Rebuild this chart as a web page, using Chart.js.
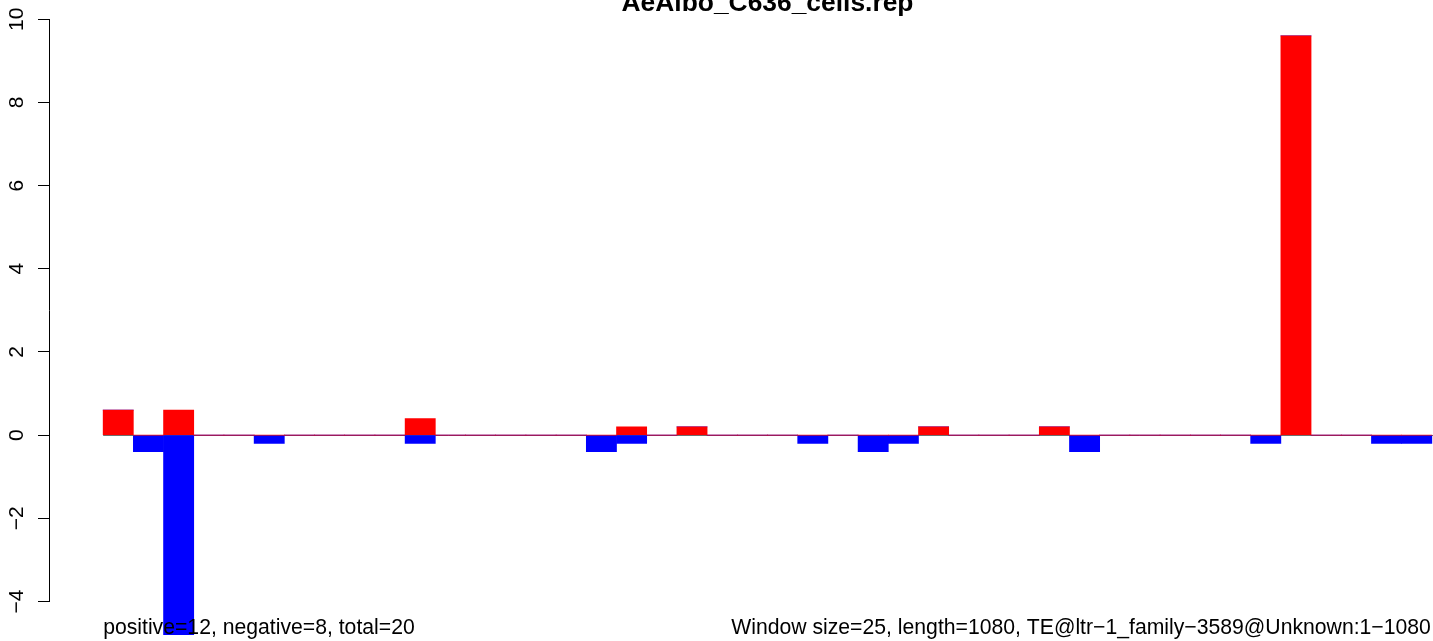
<!DOCTYPE html>
<html>
<head>
<meta charset="utf-8">
<title>AeAlbo_C636_cells.rep</title>
<script src="https://cdn.jsdelivr.net/npm/chart.js@4.4.1/dist/chart.umd.min.js"></script>
<style>
  body { margin: 0; background: #fff; }
  #wrap { width: 1433px; height: 641px; overflow: hidden; position: relative; }
  #repChart { position: absolute; left: 0; top: 0; }
</style>
</head>
<body>
<div id="wrap">
  <canvas id="repChart" width="1540" height="700"></canvas>
</div>
<script>
// 44 windows of 25 nt over a 1080 nt TE
const windows = Array.from({length: 44}, (_, i) => i);
const positiveVals = [0.6, 0, 0.6, 0, 0, 0, 0, 0, 0, 0, 0.4, 0, 0, 0, 0, 0, 0, 0.2, 0, 0.2, 0, 0,
                      0, 0, 0, 0, 0, 0.2, 0, 0, 0, 0.2, 0, 0, 0, 0, 0, 0, 0, 9.6, 0, 0, 0, 0];
const negativeVals = [0, -0.4, -4.8, 0, 0, -0.2, 0, 0, 0, 0, -0.2, 0, 0, 0, 0, 0, -0.4, -0.2, 0, 0, 0, 0,
                      0, -0.2, 0, -0.4, -0.2, 0, 0, 0, 0, 0, -0.4, 0, 0, 0, 0, 0, -0.2, 0, 0, 0, -0.2, -0.2];
const yTicks = [-4, -2, 0, 2, 4, 6, 8, 10];

const mainTitle = "AeAlbo_C636_cells.rep";
const leftNote = "positive=12, negative=8, total=20";
const rightNote = "Window size=25, length=1080, TE@ltr\u22121_family\u22123589@Unknown:1\u22121080";

const FONT = "'Liberation Sans', Arial, Helvetica, sans-serif";

// R style extras: zero line, axis line, title, footnotes
const rExtras = {
  id: 'rExtras',
  beforeDatasetsDraw(chart) {
    const ctx = chart.ctx;
    const x = chart.scales.x, y = chart.scales.y;
    const y0 = Math.round(y.getPixelForValue(0)) + 0.5;
    ctx.save();
    ctx.strokeStyle = '#6e6e6e';
    ctx.lineWidth = 1;
    ctx.beginPath();
    ctx.moveTo(x.getPixelForValue(0), y0);
    ctx.lineTo(chart.chartArea.right, y0);
    ctx.stroke();
    ctx.restore();
  },
  afterDraw(chart) {
    const ctx = chart.ctx;
    const x = chart.scales.x, y = chart.scales.y;
    ctx.save();
    // y axis line from first to last tick
    ctx.strokeStyle = '#000';
    ctx.lineWidth = 1;
    ctx.beginPath();
    ctx.moveTo(y.right - 0.5, y.getPixelForValue(yTicks[0]));
    ctx.lineTo(y.right - 0.5, y.getPixelForValue(yTicks[yTicks.length - 1]));
    ctx.stroke();

    // title, centred on plot region
    ctx.fillStyle = '#000';
    ctx.font = 'bold 26.4px ' + FONT;
    ctx.textAlign = 'center';
    ctx.textBaseline = 'alphabetic';
    ctx.fillText(mainTitle, (chart.chartArea.left + chart.chartArea.right) / 2, 11);

    // footnotes
    ctx.font = '21.2px ' + FONT;
    ctx.textAlign = 'left';
    ctx.fillText(leftNote, x.getPixelForValue(0), 634);
    ctx.textAlign = 'right';
    ctx.fillText(rightNote, x.getPixelForValue(windows.length) - 1, 634);
    ctx.restore();
  }
};

const ctx = document.getElementById('repChart').getContext('2d');
const chart = new Chart(ctx, {
  type: 'bar',
  data: {
    datasets: [
      {
        label: 'positive',
        data: windows.map(i => ({x: i + 0.5, y: positiveVals[i]})),
        backgroundColor: '#ff0000',
        borderWidth: 0
      },
      {
        label: 'negative',
        data: windows.map(i => ({x: i + 0.5, y: negativeVals[i]})),
        backgroundColor: '#0000ff',
        borderWidth: 0
      }
    ]
  },
  options: {
    responsive: false,
    animation: false,
    events: [],
    categoryPercentage: 1,
    barPercentage: 1,
    layout: { padding: { left: 0, top: 11.9, right: 55, bottom: 41.3 } },
    plugins: {
      legend: { display: false },
      title: { display: false },
      tooltip: { enabled: false }
    },
    scales: {
      x: {
        type: 'linear',
        stacked: true,
        offset: false,
        min: -1.76,
        max: 45.76,
        display: false
      },
      y: {
        stacked: true,
        min: -5.376,
        max: 10.176,
        afterBuildTicks: scale => { scale.ticks = yTicks.map(v => ({value: v})); },
        afterFit: scale => {
          scale.width = 50;
          scale.paddingTop = 0;
          scale.paddingBottom = 0;
        },
        border: { display: false },
        grid: {
          drawOnChartArea: false,
          drawTicks: true,
          tickLength: 12,
          tickColor: '#000',
          tickWidth: 1
        },
        ticks: {
          minRotation: 90,
          maxRotation: 90,
          crossAlign: 'center',
          padding: 9,
          color: '#000',
          font: { family: FONT, size: 21 },
          callback: v => String(v).replace('-', '\u2212')
        }
      }
    }
  },
  plugins: [rExtras]
});
</script>
</body>
</html>
